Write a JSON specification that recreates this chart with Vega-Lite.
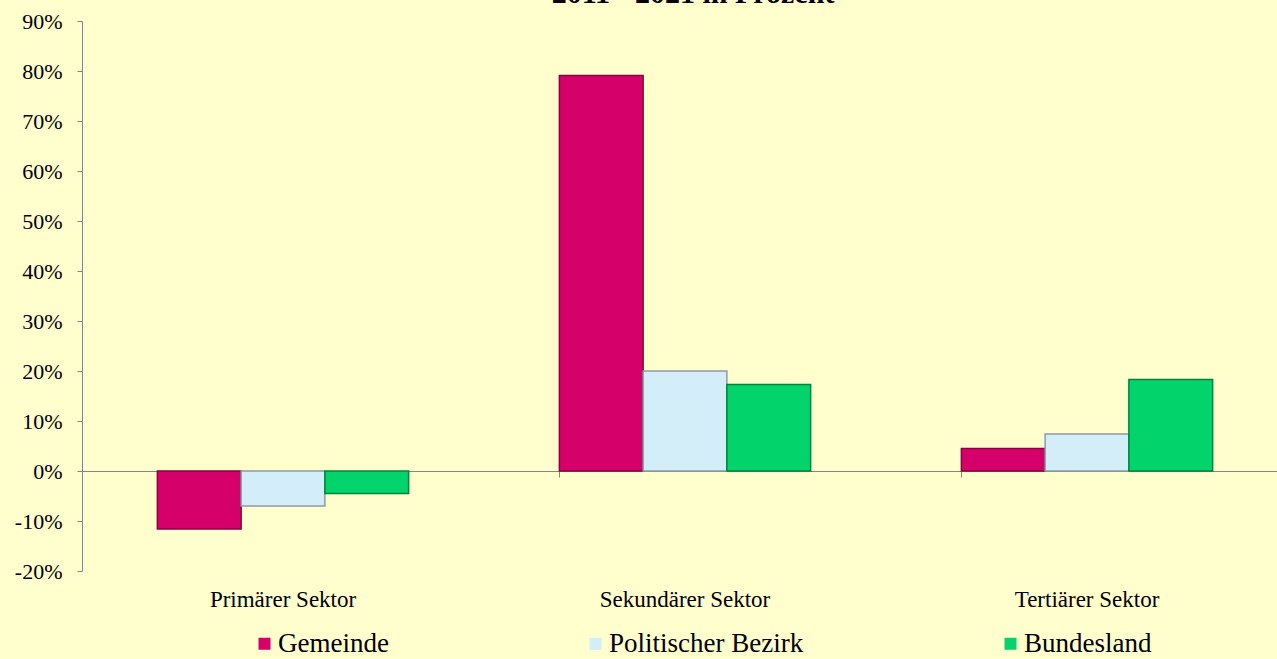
{
  "$schema": "https://vega.github.io/schema/vega-lite/v6.json",
  "autosize": {"type": "none"},
  "width": 1206,
  "height": 550,
  "padding": {"left": 82, "top": 21, "right": -11, "bottom": 88},
  "background": "#FFFECC",
  "data": {
    "values": [
      {"sector": "Primärer Sektor", "series": "Gemeinde", "value": -11.6},
      {"sector": "Primärer Sektor", "series": "Politischer Bezirk", "value": -7.0},
      {"sector": "Primärer Sektor", "series": "Bundesland", "value": -4.5},
      {"sector": "Sekundärer Sektor", "series": "Gemeinde", "value": 79.1},
      {"sector": "Sekundärer Sektor", "series": "Politischer Bezirk", "value": 20.0},
      {"sector": "Sekundärer Sektor", "series": "Bundesland", "value": 17.3},
      {"sector": "Tertiärer Sektor", "series": "Gemeinde", "value": 4.5},
      {"sector": "Tertiärer Sektor", "series": "Politischer Bezirk", "value": 7.4},
      {"sector": "Tertiärer Sektor", "series": "Bundesland", "value": 18.3}
    ]
  },
  "layer": [
    {
      "mark": {"type": "bar", "strokeWidth": 1.5},
      "encoding": {
        "x": {
          "field": "sector",
          "type": "nominal",
          "sort": null,
          "scale": {"paddingInner": 0.375, "paddingOuter": 0.1875},
          "axis": {
            "title": null,
            "orient": "bottom",
            "offset": -100,
            "labelAngle": 0,
            "labelFont": "Liberation Serif",
            "labelFontSize": 23,
            "labelColor": "#000000",
            "labelPadding": 111,
            "domainColor": "#868686",
            "tickColor": "#868686",
            "tickSize": 6,
            "bandPosition": 0,
            "grid": false
          }
        },
        "xOffset": {
          "field": "series",
          "type": "nominal",
          "sort": ["Gemeinde", "Politischer Bezirk", "Bundesland"],
          "scale": {"paddingInner": 0, "paddingOuter": 0}
        },
        "y": {
          "field": "value",
          "type": "quantitative",
          "scale": {"domain": [-20, 90], "nice": false, "zero": false},
          "axis": {
            "title": null,
            "values": [-20, -10, 0, 10, 20, 30, 40, 50, 60, 70, 80, 90],
            "labelExpr": "datum.value + '%'",
            "labelFont": "Liberation Serif",
            "labelFontSize": 22,
            "labelColor": "#000000",
            "labelPadding": 15,
            "domainColor": "#868686",
            "tickColor": "#868686",
            "tickSize": 5,
            "grid": false
          }
        },
        "color": {
          "field": "series",
          "type": "nominal",
          "sort": ["Gemeinde", "Politischer Bezirk", "Bundesland"],
          "scale": {
            "domain": ["Gemeinde", "Politischer Bezirk", "Bundesland"],
            "range": ["#D6006B", "#D3EEF9", "#03D36B"]
          },
          "legend": {
            "title": null,
            "orient": "none",
            "legendX": 169,
            "legendY": 609,
            "padding": 0,
            "direction": "horizontal",
            "symbolType": "square",
            "symbolSize": 144,
            "symbolStrokeWidth": 0,
            "labelFont": "Liberation Serif",
            "labelFontSize": 27,
            "labelColor": "#000000",
            "labelOffset": 0,
            "columnPadding": 193,
            "labelLimit": 400
          }
        },
        "stroke": {
          "field": "series",
          "type": "nominal",
          "scale": {
            "domain": ["Gemeinde", "Politischer Bezirk", "Bundesland"],
            "range": ["#8A0045", "#8C9BA6", "#02823F"]
          },
          "legend": null
        }
      }
    },
    {
      "data": {"values": [{"label": "2011 - 2021 in Prozent", "sector": "Sekundärer Sektor", "pos": 93.6}]},
      "mark": {
        "type": "text",
        "font": "Liberation Serif",
        "fontSize": 30,
        "fontWeight": "bold",
        "color": "#000000",
        "align": "center",
        "baseline": "alphabetic",
        "dx": 8
      },
      "encoding": {
        "x": {"field": "sector", "type": "nominal"},
        "y": {"field": "pos", "type": "quantitative"},
        "text": {"field": "label"}
      }
    }
  ],
  "config": {
    "view": {"stroke": null}
  }
}
